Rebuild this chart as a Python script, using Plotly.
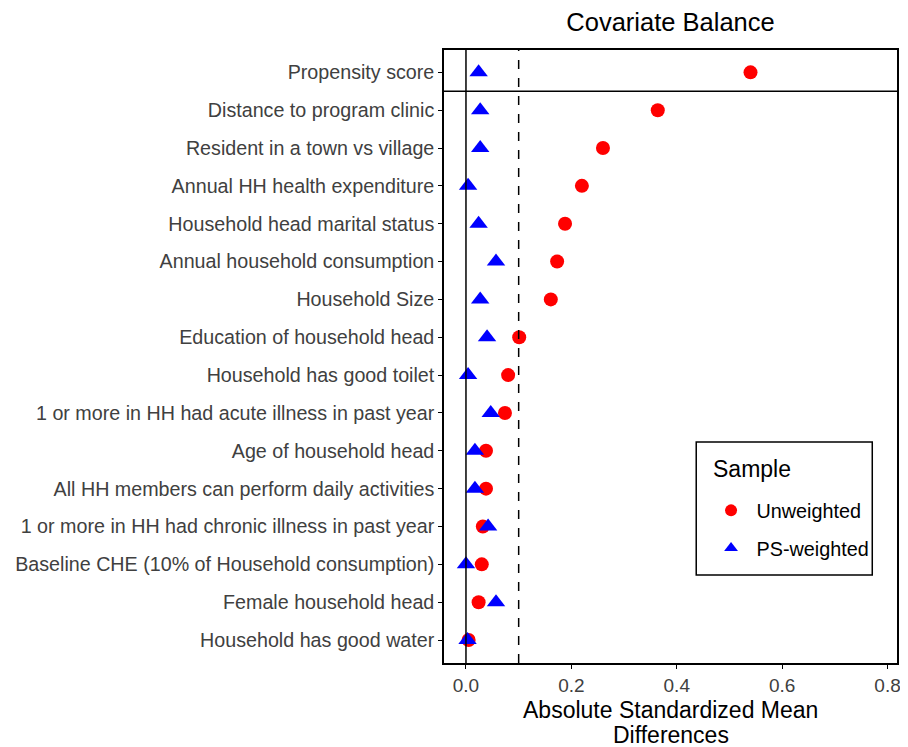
import plotly.graph_objects as go

covariates = [
    "Propensity score",
    "Distance to program clinic",
    "Resident in a town vs village",
    "Annual HH health expenditure",
    "Household head marital status",
    "Annual household consumption",
    "Household Size",
    "Education of household head",
    "Household has good toilet",
    "1 or more in HH had acute illness in past year",
    "Age of household head",
    "All HH members can perform daily activities",
    "1 or more in HH had chronic illness in past year",
    "Baseline CHE (10% of Household consumption)",
    "Female household head",
    "Household has good water",
]
unweighted = [0.540, 0.364, 0.260, 0.220, 0.188, 0.173, 0.161, 0.101, 0.080,
              0.074, 0.038, 0.038, 0.032, 0.030, 0.024, 0.005]
ps_weighted = [0.024, 0.027, 0.027, 0.004, 0.024, 0.057, 0.027, 0.040, 0.004,
               0.047, 0.017, 0.017, 0.042, 0.000, 0.057, 0.003]
x_ticks = [0.0, 0.2, 0.4, 0.6, 0.8]
x_tick_labels = ["0.0", "0.2", "0.4", "0.6", "0.8"]
threshold = 0.1

FONT = "Liberation Sans, Arial, sans-serif"
GREY = "#404040"

fig = go.Figure()
fig.add_trace(go.Scatter(
    x=unweighted, y=covariates, mode="markers", name="\u00a0Unweighted",
    legendgroup="u",
    marker=dict(symbol="circle", size=14, color="#FF0000"),
))
fig.add_trace(go.Scatter(
    x=ps_weighted, y=covariates, mode="markers", name="\u00a0PS-weighted",
    legendgroup="w",
    marker=dict(symbol="triangle-up", size=16, color="#0000FF"),
))

# reference lines
fig.add_shape(type="line", xref="x", yref="y domain", x0=0, x1=0, y0=0, y1=1,
              line=dict(color="black", width=1.5))
fig.add_shape(type="line", xref="x", yref="y domain", x0=threshold, x1=threshold,
              y0=0, y1=1, line=dict(color="black", width=1.5, dash="dash"))
# facet separator between propensity score and covariates
fig.add_shape(type="line", xref="x domain", yref="y", x0=0, x1=1, y0=14.5, y1=14.5,
              line=dict(color="black", width=1.5))

# legend frame and title
fig.add_shape(type="rect", xref="paper", yref="paper",
              x0=0.5568, x1=0.9454, y0=0.1436, y1=0.3605,
              line=dict(color="black", width=1.5), fillcolor="white", layer="above")
fig.add_annotation(text="Sample", xref="paper", yref="paper",
                   x=0.5895, y=0.3165, xanchor="left", yanchor="middle",
                   showarrow=False, font=dict(size=23, color="black"))

# x-axis title (two lines)
fig.add_annotation(text="Absolute Standardized Mean", xref="paper", yref="paper",
                   x=0.5, y=0, xanchor="center", yanchor="middle", yshift=-47,
                   showarrow=False, font=dict(size=23, color="black"))
fig.add_annotation(text="Differences", xref="paper", yref="paper",
                   x=0.5, y=0, xanchor="center", yanchor="middle", yshift=-72,
                   showarrow=False, font=dict(size=23, color="black"))

fig.update_layout(
    width=900, height=739,
    margin=dict(l=435, r=7, t=42, b=84),
    paper_bgcolor="white", plot_bgcolor="white",
    font=dict(family=FONT, color=GREY, size=19.7),
    title=dict(text="Covariate Balance", x=0.5, xref="paper", xanchor="center",
               y=1 - 5 / 739, yref="container", yanchor="top",
               font=dict(size=25.5, color="black", family=FONT)),
    showlegend=True,
    legend=dict(
        x=(713 - 443) / 458, y=(663 - 491) / 613, xanchor="left", yanchor="top",
        borderwidth=0, bgcolor="rgba(0,0,0,0)",
        font=dict(size=19.8, color="black"),
        tracegroupgap=9,
        itemsizing="constant",
    ),
)
fig.update_xaxes(
    range=[-0.0417, 0.818], tickvals=x_ticks, ticktext=x_tick_labels,
    showgrid=False, zeroline=False,
    showline=True, mirror=True, linecolor="black", linewidth=1.5,
    ticks="outside", ticklen=4, tickcolor="black",
    tickfont=dict(size=19, color=GREY),
)
fig.update_yaxes(
    type="category", categoryorder="array", categoryarray=covariates[::-1],
    range=[-0.607, 15.59],
    showgrid=False, zeroline=False,
    showline=True, mirror=True, linecolor="black", linewidth=1.5,
    ticks="outside", ticklen=4, tickcolor="black",
    tickfont=dict(size=19.7, color=GREY),
)

fig.write_html("out.html")
